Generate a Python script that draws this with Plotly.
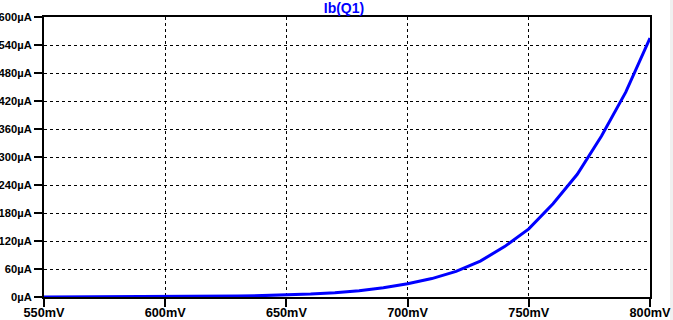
import plotly.graph_objects as go

# Data
vb_mV = [550, 560, 570, 580, 590, 600, 610, 620, 630, 640, 650, 660, 670, 680,
         690, 700, 710, 720, 730, 740, 750, 760, 770, 780, 790, 800]
ib_uA = [0.09, 0.13, 0.2, 0.29, 0.43, 0.63, 0.93, 1.37, 2.0, 2.95, 4.3, 6.3, 9.2, 13.5,
         19.8, 28.5, 39.5, 55, 77, 108, 146, 200, 263, 345, 439, 555]

x_ticks = [550, 600, 650, 700, 750, 800]
x_ticktext = ["550mV", "600mV", "650mV", "700mV", "750mV", "800mV"]
y_ticks = [0, 60, 120, 180, 240, 300, 360, 420, 480, 540, 600]
y_ticktext = ["0µA", "60µA", "120µA", "180µA", "240µA", "300µA", "360µA",
              "420µA", "480µA", "540µA", "600µA"]

FONT = "Liberation Sans, Arial"

fig = go.Figure()
fig.add_trace(go.Scatter(x=vb_mV, y=ib_uA, mode="lines",
                         line=dict(color="#0000FF", width=3), showlegend=False,
                         hoverinfo="skip"))

axis_common = dict(
    showline=True, mirror=True, linecolor="black", linewidth=2,
    ticks="outside", ticklen=8, tickwidth=2, tickcolor="black",
    showgrid=True, gridcolor="black", gridwidth=1, griddash="3px,3px",
    zeroline=False, automargin=False,
    layer="below traces",
)

fig.update_layout(
    width=673, height=320,
    margin=dict(l=44, r=23, t=17, b=23, autoexpand=False),
    paper_bgcolor="white", plot_bgcolor="white",
    font=dict(family=FONT, size=12, color="black"),
    title=dict(text="Ib(Q1)", x=344/673, xanchor="center", xref="container",
               y=1 - 8.5/320, yanchor="middle", yref="container",
               font=dict(family=FONT, size=14, color="#0000FF", weight="bold")),
    xaxis=dict(range=[550, 800], tickvals=x_ticks, ticktext=x_ticktext,
               ticklabelstandoff=-5,
               tickfont=dict(family=FONT, size=12.7, color="black", weight="bold"),
               **axis_common),
    yaxis=dict(range=[0, 600], tickvals=y_ticks, ticktext=y_ticktext,
               tickfont=dict(family=FONT, size=11.2, color="black", weight="bold"),
               **axis_common),
    shapes=[dict(type="rect", xref="paper", yref="paper",
                 x0=(670 - 44) / 606, x1=1.1, y0=-0.2, y1=1.2,
                 fillcolor="#f0f0f0", line=dict(width=0), layer="below")],
)

fig.write_html("out.html", config={"displayModeBar": False},
               post_script="document.body.style.margin='0';document.body.style.overflow='hidden';")
